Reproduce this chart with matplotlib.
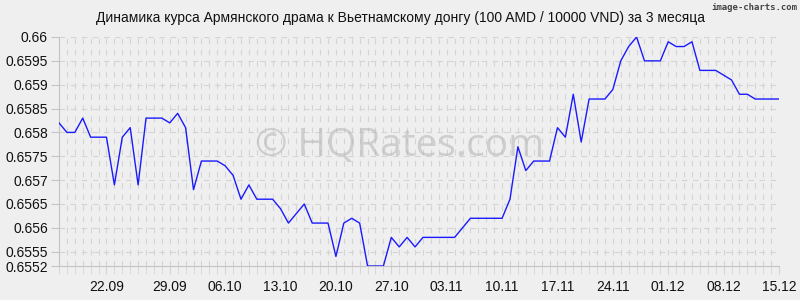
import matplotlib.pyplot as plt
import numpy as np

# Rate data (100 AMD / 10000 VND), one point per day
rates = [0.6582, 0.6580, 0.6580, 0.6583, 0.6579, 0.6579, 0.6579, 0.6569, 0.6579, 0.6581,
         0.6569, 0.6583, 0.6583, 0.6583, 0.6582, 0.6584, 0.6581, 0.6568, 0.6574, 0.6574,
         0.6574, 0.6573, 0.6571, 0.6566, 0.6569, 0.6566, 0.6566, 0.6566, 0.6564, 0.6561,
         0.6563, 0.6565, 0.6561, 0.6561, 0.6561, 0.6554, 0.6561, 0.6562, 0.6561, 0.6552,
         0.6552, 0.6552, 0.6558, 0.6556, 0.6558, 0.6556, 0.6558, 0.6558, 0.6558, 0.6558,
         0.6558, 0.6560, 0.6562, 0.6562, 0.6562, 0.6562, 0.6562, 0.6566, 0.6577, 0.6572,
         0.6574, 0.6574, 0.6574, 0.6581, 0.6579, 0.6588, 0.6578, 0.6587, 0.6587, 0.6587,
         0.6589, 0.6595, 0.6598, 0.6600, 0.6595, 0.6595, 0.6595, 0.6599, 0.6598, 0.6598,
         0.6599, 0.6593, 0.6593, 0.6593, 0.6592, 0.6591, 0.6588, 0.6588, 0.6587, 0.6587,
         0.6587, 0.6587]

date_pos = [6, 14, 21, 28, 35, 42, 49, 56, 63, 70, 77, 84, 91]
date_labels = ['22.09', '29.09', '06.10', '13.10', '20.10', '27.10', '03.11',
               '10.11', '17.11', '24.11', '01.12', '08.12', '15.12']
y_ticks = [0.6552, 0.6555, 0.656, 0.6565, 0.657, 0.6575, 0.658, 0.6585, 0.659, 0.6595, 0.66]
y_labels = ['0.6552', '0.6555', '0.656', '0.6565', '0.657', '0.6575', '0.658',
            '0.6585', '0.659', '0.6595', '0.66']

plt.rcParams['font.family'] = ['Liberation Sans', 'DejaVu Sans']
bg = '#efefef'

fig = plt.figure(figsize=(8, 3), dpi=100, facecolor=bg)
ax = fig.add_axes([59 / 800, 1 - 266 / 300, 720 / 800, 229 / 300], facecolor=bg)

x = np.arange(len(rates))
ax.set_xlim(0, len(rates) - 1)
ax.set_ylim(0.6552, 0.66)

# dashed grid: every day vertically, every tick horizontally
for xi in x:
    ax.axvline(xi, color='#d4d4d4', lw=0.8, dashes=(5, 5), zorder=1)
for yt in y_ticks[1:]:
    ax.axhline(yt, color='#d4d4d4', lw=0.8, dashes=(5, 5), zorder=1)

ax.plot(x, rates, color='#1a1aff', lw=1.0, zorder=3)

for s in ['top', 'right']:
    ax.spines[s].set_visible(False)
for s in ['left', 'bottom']:
    ax.spines[s].set_color('#c4c4c4')
    ax.spines[s].set_linewidth(0.8)

ax.set_yticks(y_ticks)
ax.set_yticklabels(y_labels)
ax.set_xticks(date_pos)
ax.set_xticklabels(date_labels)
ax.set_xticks(x, minor=True)
ax.tick_params(axis='y', length=6, color='#c4c4c4', labelsize=10, pad=2, labelcolor='#111111')
ax.tick_params(axis='x', which='both', length=6, color='#d4d4d4', labelsize=10, pad=4,
               labelcolor='#111111')

fig.text(0.5, 1 - 18 / 300, 'Динамика курса Армянского драма к Вьетнамскому донгу (100 AMD / 10000 VND) за 3 месяца',
         ha='center', va='center', fontsize=10, color='#111111')
fig.text(797 / 800, 1 - 7 / 300, 'image-charts.com', ha='right', va='center', fontsize=6.5,
         color='#444444', family=['DejaVu Sans Mono'], weight='bold')
fig.text(400 / 800, 1 - 146 / 300, '© HQRates.com', ha='center', va='center', fontsize=28,
         color='#b8b8b8', alpha=0.6, family=['Open Sans', 'DejaVu Sans'], zorder=2)

fig.savefig('out.png', dpi=100, facecolor=bg)
